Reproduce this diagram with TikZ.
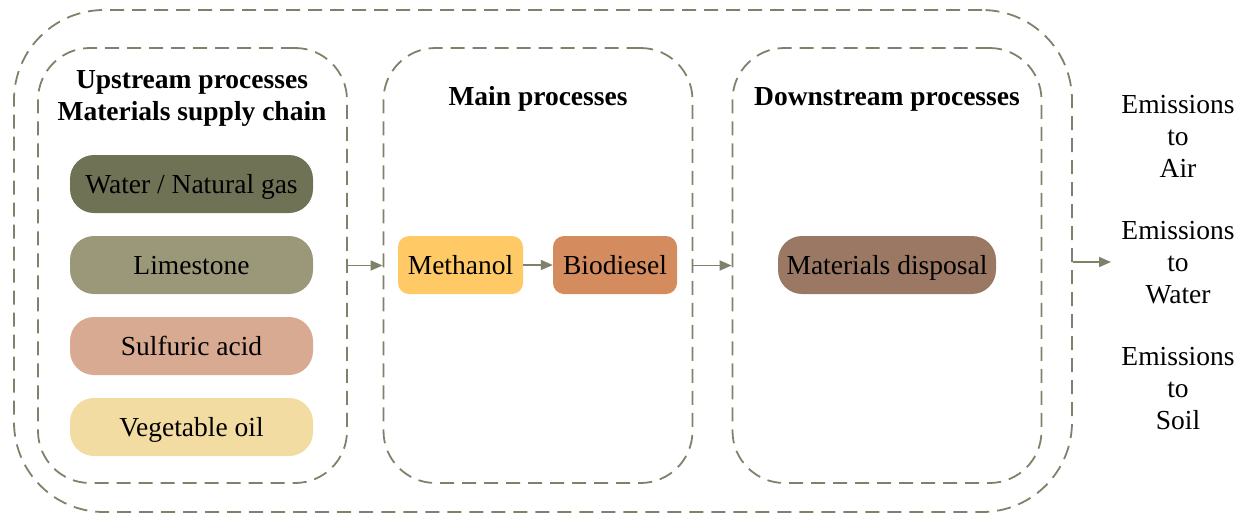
\documentclass[tikz,border=0pt]{standalone}
\usepackage{fontspec}
\setmainfont{Liberation Serif}
\usetikzlibrary{arrows.meta}

\definecolor{dashgray}{HTML}{80816B}
\definecolor{watercol}{HTML}{6F7255}
\definecolor{limecol}{HTML}{9A9878}
\definecolor{sulfcol}{HTML}{D8AA92}
\definecolor{vegcol}{HTML}{F2DCA2}
\definecolor{methcol}{HTML}{FFC965}
\definecolor{biocol}{HTML}{D48C5F}
\definecolor{dispcol}{HTML}{9B7864}

\newcommand{\diagfont}{\fontsize{27.5}{32}\selectfont}

\tikzset{
  stage/.style={draw=dashgray, line width=1.8pt, dash pattern=on 14pt off 8pt,
    minimum width=309pt, minimum height=435pt, rounded corners=52pt, inner sep=0pt},
  material/.style={minimum width=243pt, minimum height=58pt, rounded corners=24pt,
    inner sep=0pt, text height=22pt, text depth=3pt},
  proc/.style={minimum width=125pt, minimum height=58pt, rounded corners=11pt,
    inner sep=0pt, text height=22pt, text depth=3pt},
  flow/.style={draw=dashgray, line width=1.8pt, -{Triangle[length=12pt,width=10pt]}},
  heading/.style={font=\diagfont\bfseries, align=center},
  emission/.style={align=center}
}

\begin{document}
\begin{tikzpicture}[x=1pt,y=-1pt,font=\diagfont]
      \useasboundingbox (0,0) rectangle (1239,515);
      % frames
      \node[stage, minimum width=1058pt, minimum height=502pt, rounded corners=90pt] (outer) at (543,261) {};
      \node[stage] (up) at (192.5,265.5) {};
      \node[stage] (main) at (538,265.5) {};
      \node[stage] (down) at (887,265.5) {};
      \node[heading] (uptitle) at (192,98) {Upstream processes\\Materials supply chain};
      \node[heading] (maintitle) at (538,99) {Main processes};
      \node[heading] (downtitle) at (887,99) {Downstream processes};
      % materials
      \node[material, fill=watercol] (water) at (191.5,184) {Water / Natural gas};
      \node[material, fill=limecol] (lime) at (191.5,265) {Limestone};
      \node[material, fill=sulfcol] (sulf) at (191.5,346) {Sulfuric acid};
      \node[material, fill=vegcol] (veg) at (191.5,427) {Vegetable oil};
      % processes
      \node[proc, fill=methcol] (meth) at (460.5,265) {Methanol};
      \node[proc, fill=biocol, minimum width=124pt] (bio) at (615,265) {Biodiesel};
      \node[material, fill=dispcol, minimum width=218pt] (disp) at (887,265) {Materials disposal};
      % emissions
      \node[emission] (air) at (1178,136) {Emissions\\to\\Air};
      \node[emission] (water2) at (1178,263) {Emissions\\to\\Water};
      \node[emission] (soil) at (1178,389) {Emissions\\to\\Soil};
      \coordinate (out) at (1111,262);
      % arrows
      \draw[flow] (up.east) -- (main.west);
      \draw[flow] (meth.east) -- (bio.west);
      \draw[flow] (main.east) -- (down.west);
      \draw[flow] (outer.east |- out) -- (out);
    \end{tikzpicture}
\end{document}
